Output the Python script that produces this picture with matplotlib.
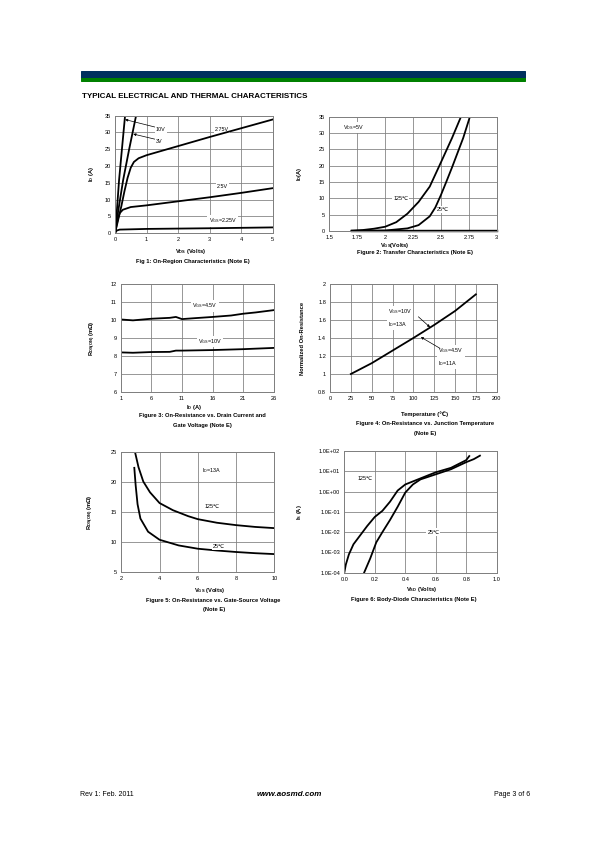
import numpy as np
import matplotlib
matplotlib.use('Agg')
import matplotlib.pyplot as plt
from matplotlib.patches import Rectangle
from matplotlib.ticker import FixedLocator, FixedFormatter

plt.rcParams['font.family'] = ['Liberation Sans', 'DejaVu Sans']
plt.rcParams['mathtext.fontset'] = 'custom'
plt.rcParams['mathtext.rm'] = 'Liberation Sans'
plt.rcParams['mathtext.bf'] = 'Liberation Sans:bold'

# ---- Fig 1: on-region characteristics (Vds, Id) per Vgs
vds_10v = [0, 0.05, 0.13, 0.22, 0.32]
id_10v = [0, 5.5, 15.9, 25, 35]
vds_3v = [0, 0.1, 0.26, 0.45, 0.67]
id_3v = [0, 6.5, 15.9, 25, 35]
vds_275 = [0, 0.1, 0.2, 0.3, 0.4, 0.5, 0.6, 0.75, 1, 2, 3, 4, 5]
id_275 = [0, 4, 8, 12.5, 16.5, 19.5, 21.2, 22.3, 23.2, 25.9, 28.6, 31.2, 33.8]
vds_25 = [0, 0.05, 0.1, 0.15, 0.25, 0.5, 1, 2, 3, 4, 5]
id_25 = [0, 2.5, 4.5, 6, 7, 7.8, 8.3, 9.5, 10.7, 12, 13.4]
vds_225 = [0, 0.05, 0.15, 1, 3, 5]
id_225 = [0, 0.8, 1.1, 1.3, 1.5, 1.75]

# ---- Fig 2: transfer characteristics
vgs_125c = [1.7, 1.8, 1.9, 2.0, 2.1, 2.2, 2.3, 2.4, 2.5, 2.6, 2.68]
id_125c = [0.1, 0.3, 0.7, 1.3, 2.7, 5.3, 8.9, 13.6, 21, 28.5, 35]
vgs_25c = [1.7, 2.0, 2.2, 2.3, 2.4, 2.45, 2.5, 2.55, 2.6, 2.7, 2.76]
id_25c = [0.02, 0.15, 0.8, 1.8, 4.5, 7.2, 11, 15.2, 19.5, 28.5, 35]
vgs_floor = [1.7, 3.0]
id_floor = [0, 0]

# ---- Fig 3: Rds(on) vs drain current
id_f3 = [1, 3, 6, 9, 10, 11, 13, 16, 19, 21, 23, 26]
rds_45v = [10.03, 9.98, 10.07, 10.12, 10.17, 10.05, 10.1, 10.17, 10.25, 10.35, 10.42, 10.55]
id_f3b = [1, 3, 6, 9, 10, 11, 16, 21, 26]
rds_10v = [8.2, 8.18, 8.22, 8.23, 8.3, 8.3, 8.33, 8.38, 8.45]

# ---- Fig 4: normalized Rds(on) vs temperature
temp = [25, 50, 75, 100, 125, 150, 175]
rnorm = [1.0, 1.12, 1.26, 1.40, 1.545, 1.70, 1.885]

# ---- Fig 5: Rds(on) vs Vgs
vgs5_125 = [2.72, 2.9, 3.15, 3.5, 4, 4.7, 5.5, 6, 7, 8, 9, 10]
rds5_125 = [25, 22.5, 20.1, 18.3, 16.5, 15.3, 14.3, 13.8, 13.2, 12.8, 12.5, 12.3]
vgs5_25 = [2.68, 2.75, 2.85, 3.0, 3.4, 4, 5, 6, 7, 8, 9, 10]
rds5_25 = [22.4, 19.5, 16.3, 13.9, 11.7, 10.35, 9.4, 8.85, 8.55, 8.3, 8.1, 7.95]

# ---- Fig 6: body diode (log10 of Is)
vsd_125 = [0, 0.01, 0.03, 0.06, 0.1, 0.15, 0.2, 0.25, 0.3, 0.35, 0.4, 0.45, 0.5, 0.6, 0.7, 0.8, 0.82]
logis_125 = [-4, -3.6, -3.1, -2.6, -2.2, -1.7, -1.25, -0.95, -0.5, 0.05, 0.35, 0.5, 0.65, 0.95, 1.17, 1.55, 1.75]
vsd_25 = [0.13, 0.17, 0.21, 0.25, 0.3, 0.35, 0.4, 0.45, 0.5, 0.6, 0.7, 0.8, 0.85, 0.89]
logis_25 = [-4, -3.3, -2.5, -2.0, -1.4, -0.75, -0.05, 0.35, 0.6, 0.85, 1.1, 1.45, 1.6, 1.77]
is_ticklabels = ['1.0E-04', '1.0E-03', '1.0E-02', '1.0E-01', '1.0E+00', '1.0E+01', '1.0E+02']

W, H = 595, 842
fig = plt.figure(figsize=(W / 72, H / 72), dpi=72)


def fx(px):
    return px / W


def fy(py):
    return 1 - py / H


def make_ax(l, t, r, b):
    ax = fig.add_axes([fx(l), fy(b), (r - l) / W, (b - t) / H])
    for s in ax.spines.values():
        s.set_color('#808080')
        s.set_linewidth(1.0)
    ax.grid(True, color='#808080', lw=0.8)
    ax.set_axisbelow(True)
    ax.tick_params(length=0, labelsize=5.6, pad=4)
    return ax


def ylab(ax, txt, px, l, r):
    ax.set_ylabel(txt, fontsize=5.8, fontweight='bold')
    ax.yaxis.set_label_coords((px - l) / (r - l), 0.5)


def ftext(px, py, txt, **kw):
    fig.text(fx(px), fy(py), txt, ha='center', va='center', fontsize=5.8,
             fontweight='bold', **kw)


def label(ax, x, y, txt, **kw):
    kw.setdefault('ha', 'center')
    ax.text(x, y, txt, fontsize=5.4, va='center', bbox=wbox, zorder=1, **kw)


wbox = dict(facecolor='white', edgecolor='none', pad=1.2)
lw = 1.8

# header
fig.patches.append(Rectangle((fx(81), fy(77.7)), (525 - 81) / W, 6.7 / H,
                             transform=fig.transFigure, color='#00305e'))
fig.patches.append(Rectangle((fx(81), fy(80.7)), (525 - 81) / W, 3 / H,
                             transform=fig.transFigure, color='#008000'))
fig.text(fx(82), fy(96), 'TYPICAL ELECTRICAL AND THERMAL CHARACTERISTICS',
         fontsize=8, fontweight='bold', va='center', ha='left')

# ---------- Fig 1
ax1 = make_ax(115, 115.5, 272.5, 233.3)
for x, y in [(vds_10v, id_10v), (vds_3v, id_3v), (vds_275, id_275),
             (vds_25, id_25), (vds_225, id_225)]:
    ax1.plot(x, y, color='black', lw=lw, zorder=2)
ax1.set_xlim(0, 5)
ax1.set_ylim(0, 35)
ax1.set_xticks(range(0, 6))
ax1.set_yticks(range(0, 36, 5))
arr = dict(arrowstyle='-|>', color='black', lw=0.7, mutation_scale=5,
           shrinkA=0, shrinkB=0)
ax1.annotate('10V', xy=(0.32, 33.8), xytext=(1.3, 30.9), fontsize=5.4,
             va='center', ha='left', bbox=wbox, zorder=1,
             arrowprops=dict(arr, relpos=(0, 0.9)))
ax1.annotate('3V', xy=(0.58, 29.5), xytext=(1.3, 27.3), fontsize=5.4,
             va='center', ha='left', bbox=wbox, zorder=1,
             arrowprops=dict(arr, relpos=(0, 0.9)))
label(ax1, 3.39, 30.9, '2.75V')
label(ax1, 3.42, 13.8, '2.5V')
label(ax1, 3.42, 3.65, r'V$_{\mathrm{GS}}$=2.25V')
ylab(ax1, r'I$_{\mathbf{D}}$ (A)', 96, 115, 272.5)
ftext(190, 251.7, r'V$_{\mathbf{DS}}$ (Volts)')
ftext(193, 262, 'Fig 1: On-Region Characteristics (Note E)')

# ---------- Fig 2
ax2 = make_ax(329.3, 116.7, 496.7, 231)
ax2.plot(vgs_floor, id_floor, color='black', lw=2.4, clip_on=False, zorder=2)
ax2.plot(vgs_125c, id_125c, color='black', lw=lw, zorder=2)
ax2.plot(vgs_25c, id_25c, color='black', lw=lw, zorder=2)
ax2.set_xlim(1.5, 3)
ax2.set_ylim(0, 35)
ax2.xaxis.set_major_locator(FixedLocator([1.5, 1.75, 2, 2.25, 2.5, 2.75, 3]))
ax2.xaxis.set_major_formatter(FixedFormatter(['1.5', '1.75', '2', '2.25', '2.5', '2.75', '3']))
ax2.set_yticks(range(0, 36, 5))
label(ax2, 2.14, 9.8, '125℃')
label(ax2, 2.52, 6.6, '25℃')
label(ax2, 1.715, 31.6, r'V$_{\mathrm{DS}}$=5V')
ylab(ax2, r'I$_{\mathbf{D}}$(A)', 304, 329.3, 496.7)
ftext(395, 245, r'V$_{\mathbf{GS}}$(Volts)')
ftext(415, 252.5, 'Figure 2: Transfer Characteristics (Note E)')

# ---------- Fig 3
ax3 = make_ax(120.7, 284, 274, 392)
ax3.plot(id_f3, rds_45v, color='black', lw=lw, zorder=2)
ax3.plot(id_f3b, rds_10v, color='black', lw=lw, zorder=2)
ax3.set_xlim(1, 26)
ax3.set_ylim(6, 12)
ax3.set_xticks([1, 6, 11, 16, 21, 26])
ax3.set_yticks(range(6, 13))
label(ax3, 14.75, 10.78, r'V$_{\mathrm{GS}}$=4.5V')
label(ax3, 15.6, 8.8, r'V$_{\mathrm{GS}}$=10V')
ylab(ax3, r'R$_{\mathbf{DS(ON)}}$ (m$\mathbf{\Omega}$)', 98, 120.7, 274)
ftext(194, 407.7, r'I$_{\mathbf{D}}$ (A)')
ftext(202, 415.5, 'Figure 3: On-Resistance vs. Drain Current and')
ftext(202, 425, 'Gate Voltage (Note E)')

# ---------- Fig 4
ax4 = make_ax(330, 284, 496.7, 392)
ax4.plot(temp, rnorm, color='black', lw=lw, zorder=2)
ax4.set_xlim(0, 200)
ax4.set_ylim(0.8, 2)
ax4.set_xticks(range(0, 201, 25))
ax4.yaxis.set_major_locator(FixedLocator([0.8, 1, 1.2, 1.4, 1.6, 1.8, 2]))
ax4.yaxis.set_major_formatter(FixedFormatter(['0.8', '1', '1.2', '1.4', '1.6', '1.8', '2']))
label(ax4, 70, 1.62, 'V$_{\\mathrm{GS}}$=10V\nI$_{\\mathrm{D}}$=13A',
      ha='left', linespacing=1.6)
label(ax4, 130, 1.19, 'V$_{\\mathrm{GS}}$=4.5V\nI$_{\\mathrm{D}}$=11A',
      ha='left', linespacing=1.6)
ax4.annotate('', xy=(120, 1.52), xytext=(106, 1.636), arrowprops=arr)
ax4.annotate('', xy=(109, 1.41), xytext=(132, 1.285), arrowprops=arr)
ylab(ax4, 'Normalized On-Resistance', 304.5, 330, 496.7)
ftext(425, 414, 'Temperature (℃)')
ftext(425, 423, 'Figure 4: On-Resistance vs. Junction Temperature')
ftext(425, 433, '(Note E)')

# ---------- Fig 5
ax5 = make_ax(121.3, 452.3, 274.3, 571.7)
ax5.plot(vgs5_125, rds5_125, color='black', lw=lw, zorder=2)
ax5.plot(vgs5_25, rds5_25, color='black', lw=lw, zorder=2)
ax5.set_xlim(2, 10)
ax5.set_ylim(5, 25)
ax5.set_xticks(range(2, 11, 2))
ax5.set_yticks(range(5, 26, 5))
label(ax5, 6.72, 22.0, r'I$_{\mathrm{D}}$=13A')
label(ax5, 6.72, 15.9, '125℃')
ax5.text(7.12, 9.2, '25℃', fontsize=5.4, ha='center', va='center',
         bbox=wbox, zorder=3)
ylab(ax5, r'R$_{\mathbf{DS(ON)}}$ (m$\mathbf{\Omega}$)', 96, 121.3, 274.3)
ftext(210, 590.7, r'V$_{\mathbf{GS}}$ (Volts)')
ftext(213, 600.7, 'Figure 5: On-Resistance vs. Gate-Source Voltage')
ftext(214, 609.5, '(Note E)')

# ---------- Fig 6
ax6 = make_ax(344.3, 451, 496.7, 572.7)
ax6.plot(vsd_125, logis_125, color='black', lw=lw, zorder=2)
ax6.plot(vsd_25, logis_25, color='black', lw=lw, zorder=2)
ax6.set_xlim(0, 1)
ax6.set_ylim(-4, 2)
ax6.set_xticks(np.arange(0, 1.01, 0.2))
ax6.set_xticklabels(['0.0', '0.2', '0.4', '0.6', '0.8', '1.0'])
ax6.yaxis.set_major_locator(FixedLocator(range(-4, 3)))
ax6.yaxis.set_major_formatter(FixedFormatter(is_ticklabels))
label(ax6, 0.136, 0.65, '125℃')
label(ax6, 0.584, -2.0, '25℃')
ylab(ax6, r'I$_{\mathbf{S}}$ (A)', 304.5, 344.3, 496.7)
ftext(421.7, 589, r'V$_{\mathbf{SD}}$ (Volts)')
ftext(414, 599.3, 'Figure 6: Body-Diode Characteristics (Note E)')

# footer
fig.text(fx(80), fy(795), 'Rev 1: Feb. 2011', fontsize=7, va='center', ha='left')
fig.text(fx(289), fy(795), 'www.aosmd.com', fontsize=8, fontweight='bold',
         fontstyle='italic', va='center', ha='center')
fig.text(fx(530), fy(795), 'Page 3 of 6', fontsize=7, va='center', ha='right')

fig.savefig('out.png', dpi=72)
